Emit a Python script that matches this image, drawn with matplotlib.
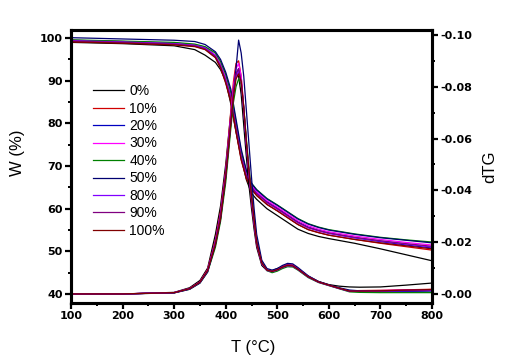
#! /usr/bin/env python3

import matplotlib
matplotlib.use('Agg')
import matplotlib.pyplot as plt
from matplotlib.ticker import MultipleLocator, FormatStrFormatter

plt.rcParams['axes.unicode_minus'] = False
plt.rcParams['font.family'] = ['Liberation Sans', 'DejaVu Sans']

labels = ['0%', '10%', '20%', '30%', '40%', '50%', '80%', '90%', '100%']
colors = ['#000000', '#d00000', '#0000c0', '#ff00ff', '#008000',
          '#000070', '#8000ff', '#800080', '#800000']

# TG curves, W (%)
t_tg = [100, 200, 300, 340, 360, 380, 390, 400, 410, 420, 430, 440, 450,
        460, 480, 500, 520, 540, 560, 580, 600, 650, 700, 750, 800]
w_0 = [99.0, 98.7, 98.2, 97.3, 96.0, 94.3, 92.6, 90.0, 84.5, 78.0, 72.0,
       66.8, 63.6, 62.2, 60.0, 58.4, 56.8, 55.2, 54.2, 53.5, 53.0, 51.9,
       50.6, 49.2, 47.8]
w_10 = [99.2, 98.9, 98.5, 98.1, 97.4, 95.5, 93.1, 89.6, 85.3, 78.2, 71.6,
        67.2, 64.6, 63.1, 61.0, 59.5, 57.9, 56.3, 55.1, 54.4, 53.8, 52.8,
        51.9, 51.1, 50.3]
w_20 = [99.5, 99.2, 98.8, 98.4, 97.8, 96.0, 93.8, 90.6, 86.5, 79.5, 72.8,
        68.3, 65.4, 63.9, 61.7, 60.2, 58.5, 56.9, 55.7, 54.9, 54.3, 53.2,
        52.3, 51.5, 50.8]
w_30 = [99.5, 99.2, 98.8, 98.4, 97.8, 96.0, 93.9, 90.7, 86.6, 79.6, 72.9,
        68.3, 65.5, 64.0, 61.9, 60.4, 58.8, 57.2, 56.0, 55.2, 54.6, 53.6,
        52.8, 52.1, 51.5]
w_40 = [99.6, 99.3, 99.0, 98.6, 98.0, 96.5, 94.5, 91.5, 87.3, 80.3, 73.4,
        68.8, 66.0, 64.5, 62.4, 60.9, 59.3, 57.7, 56.5, 55.7, 55.1, 54.1,
        53.3, 52.7, 52.2]
w_50 = [100.1, 99.8, 99.5, 99.2, 98.5, 96.8, 95.0, 92.0, 88.0, 81.0, 74.0,
        69.0, 65.9, 64.4, 62.3, 60.8, 59.2, 57.6, 56.4, 55.6, 55.0, 54.0,
        53.2, 52.6, 52.0]
w_80 = [99.4, 99.1, 98.7, 98.3, 97.7, 95.8, 93.5, 90.2, 86.0, 79.0, 72.3,
        67.9, 65.1, 63.6, 61.4, 59.9, 58.3, 56.7, 55.5, 54.8, 54.2, 53.2,
        52.4, 51.7, 51.0]
w_90 = [99.3, 99.0, 98.6, 98.2, 97.5, 95.7, 93.4, 90.0, 85.8, 78.8, 72.1,
        67.7, 65.0, 63.5, 61.5, 60.0, 58.4, 56.8, 55.6, 54.9, 54.3, 53.3,
        52.5, 51.8, 51.2]
w_100 = [99.1, 98.8, 98.4, 98.0, 97.3, 95.4, 93.0, 89.4, 85.0, 78.0, 71.4,
         67.1, 64.6, 63.1, 61.0, 59.5, 57.9, 56.3, 55.1, 54.4, 53.8, 52.8,
         52.0, 51.3, 50.6]

# DTG curves
t_dtg = [100, 200, 300, 330, 350, 365, 380, 390, 400, 410, 415, 420, 425,
         430, 435, 440, 445, 450, 455, 460, 470, 480, 490, 500, 510, 520,
         530, 540, 560, 580, 600, 620, 640, 660, 700, 750, 800]
d_0 = [0, 0, -0.0006, -0.0024, -0.0052, -0.010, -0.023, -0.034, -0.050,
       -0.070, -0.079, -0.085, -0.084, -0.077, -0.065, -0.053, -0.042,
       -0.033, -0.025, -0.018, -0.0110, -0.0090, -0.0090, -0.0098, -0.0106,
       -0.0112, -0.0108, -0.0096, -0.0068, -0.0048, -0.0036, -0.0030,
       -0.0027, -0.0026, -0.0027, -0.0034, -0.0042]
d_10 = [0, 0, -0.0005, -0.0021, -0.0047, -0.0095, -0.021, -0.032, -0.048,
        -0.071, -0.082, -0.089, -0.090, -0.084, -0.072, -0.058, -0.046,
        -0.036, -0.027, -0.019, -0.0117, -0.0092, -0.0088, -0.0095, -0.0106,
        -0.0114, -0.0112, -0.0098, -0.0068, -0.0047, -0.0034, -0.0022,
        -0.0012, -0.0013, -0.0014, -0.0016, -0.0018]
d_20 = [0, 0, -0.0005, -0.002, -0.0045, -0.009, -0.020, -0.030, -0.046,
        -0.068, -0.078, -0.085, -0.087, -0.082, -0.071, -0.058, -0.047,
        -0.037, -0.028, -0.020, -0.0118, -0.0093, -0.0087, -0.0092, -0.0102,
        -0.0110, -0.0108, -0.0095, -0.0066, -0.0046, -0.0034, -0.0022,
        -0.0011, -0.0009, -0.0009, -0.0010, -0.0012]
d_30 = [0, 0, -0.0005, -0.002, -0.0046, -0.0092, -0.020, -0.031, -0.047,
        -0.069, -0.080, -0.087, -0.089, -0.084, -0.072, -0.059, -0.047,
        -0.037, -0.028, -0.020, -0.0118, -0.0091, -0.0086, -0.0093, -0.0104,
        -0.0112, -0.0110, -0.0097, -0.0067, -0.0046, -0.0033, -0.0021,
        -0.0011, -0.0012, -0.0013, -0.0015, -0.0017]
d_40 = [0, 0, -0.0004, -0.0018, -0.0042, -0.0085, -0.018, -0.028, -0.043,
        -0.064, -0.074, -0.080, -0.083, -0.081, -0.072, -0.060, -0.049,
        -0.039, -0.030, -0.021, -0.0122, -0.0090, -0.0082, -0.0088, -0.0098,
        -0.0105, -0.0104, -0.0092, -0.0063, -0.0044, -0.0032, -0.0020,
        -0.0008, -0.0006, -0.0005, -0.0005, -0.0005]
d_50 = [0, 0, -0.0004, -0.0018, -0.0042, -0.0085, -0.019, -0.029, -0.045,
        -0.066, -0.077, -0.087, -0.098, -0.093, -0.084, -0.071, -0.058,
        -0.045, -0.033, -0.023, -0.0130, -0.0098, -0.0092, -0.0098, -0.0110,
        -0.0118, -0.0116, -0.0102, -0.0070, -0.0048, -0.0035, -0.0024,
        -0.0015, -0.0012, -0.0011, -0.0011, -0.0012]
d_80 = [0, 0, -0.0005, -0.002, -0.0045, -0.0090, -0.020, -0.030, -0.046,
        -0.067, -0.077, -0.084, -0.086, -0.082, -0.071, -0.058, -0.047,
        -0.037, -0.028, -0.020, -0.0118, -0.0091, -0.0086, -0.0092, -0.0102,
        -0.0109, -0.0107, -0.0094, -0.0065, -0.0045, -0.0033, -0.0021,
        -0.0010, -0.0010, -0.0011, -0.0012, -0.0014]
d_90 = [0, 0, -0.0005, -0.0021, -0.0046, -0.0092, -0.020, -0.031, -0.047,
        -0.068, -0.078, -0.085, -0.087, -0.082, -0.071, -0.058, -0.046,
        -0.036, -0.027, -0.019, -0.0118, -0.0092, -0.0087, -0.0094, -0.0105,
        -0.0113, -0.0111, -0.0097, -0.0067, -0.0046, -0.0034, -0.0022,
        -0.0011, -0.0011, -0.0012, -0.0014, -0.0016]
d_100 = [0, 0, -0.0005, -0.002, -0.0045, -0.0090, -0.019, -0.029, -0.045,
         -0.066, -0.076, -0.083, -0.085, -0.082, -0.072, -0.059, -0.048,
         -0.038, -0.029, -0.020, -0.0120, -0.0092, -0.0087, -0.0093, -0.0103,
         -0.0110, -0.0108, -0.0095, -0.0066, -0.0046, -0.0034, -0.0022,
         -0.0011, -0.0011, -0.0012, -0.0015, -0.0017]

tg = [w_0, w_10, w_20, w_30, w_40, w_50, w_80, w_90, w_100]
dtg = [d_0, d_10, d_20, d_30, d_40, d_50, d_80, d_90, d_100]

fig = plt.figure(figsize=(5.13, 3.64), dpi=100)
ax = fig.add_axes([71 / 513, 1 - 303 / 364, 361 / 513, 273 / 364])
ax2 = ax.twinx()

handles = []
for w, d, c, lab in zip(tg, dtg, colors, labels):
    h, = ax.plot(t_tg, w, color=c, lw=0.9, label=lab)
    ax2.plot(t_dtg, d, color=c, lw=0.9)
    handles.append(h)

ax.set_xlim(100, 800)
ax.set_ylim(37.9, 101.9)
ax2.set_ylim(0.0035, -0.1019)

tick_font = dict(family=['Liberation Sans Narrow', 'DejaVu Sans'],
                 weight='bold', size=8)
ax.xaxis.set_major_locator(MultipleLocator(100))
ax.xaxis.set_minor_locator(MultipleLocator(50))
ax.yaxis.set_major_locator(MultipleLocator(10))
ax.yaxis.set_minor_locator(MultipleLocator(5))
ax2.yaxis.set_major_locator(MultipleLocator(0.02))
ax2.yaxis.set_minor_locator(MultipleLocator(0.01))
ax2.yaxis.set_major_formatter(FormatStrFormatter('%.2f'))

for a in (ax, ax2):
    for s in a.spines.values():
        s.set_linewidth(2.2)
    a.tick_params(which='major', direction='out', length=4, width=1.6, pad=2)
    a.tick_params(which='minor', direction='out', length=2.5, width=1.4)
    for lbl in a.get_xticklabels() + a.get_yticklabels():
        lbl.set_fontproperties(tick_font)
        lbl.set_fontweight('bold')
        lbl.set_fontsize(8)
ax.tick_params(right=False, which='both')

ax.set_xlabel('T (°C)', fontsize=12)
ax.set_ylabel('W (%)', fontsize=12)
ax2.set_ylabel('dTG', fontsize=12)
ax.xaxis.set_label_coords(0.504, -0.135)
ax.yaxis.set_label_coords(-0.127, 0.55)
ax2.yaxis.set_label_coords(1.138, 0.5)

ax2.legend(handles=handles, loc='upper left', bbox_to_anchor=(0.061, 0.802),
           frameon=False, fontsize=10, handlelength=2.2, handletextpad=0.4,
           labelspacing=0.25, borderpad=0, borderaxespad=0)

fig.savefig('out.png', dpi=100)
